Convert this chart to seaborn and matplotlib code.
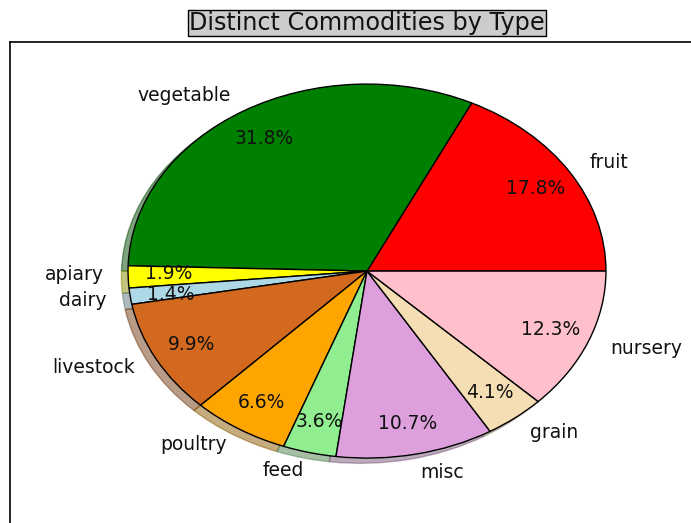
import matplotlib
matplotlib.use("Agg")
import matplotlib.pyplot as plt
import seaborn as sns

categories = ["fruit", "vegetable", "apiary", "dairy", "livestock",
              "poultry", "feed", "misc", "grain", "nursery"]
shares = [17.8, 31.8, 1.9, 1.4, 9.9, 6.6, 3.6, 10.7, 4.1, 12.3]
colors = ["red", "green", "yellow", "lightblue", "chocolate",
          "orange", "lightgreen", "plum", "wheat", "pink"]

sns.set_style("white")
plt.rcParams["font.family"] = ["DejaVu Sans"]

fig = plt.figure(figsize=(6.91, 5.23), dpi=100)
ax = fig.add_axes([10/691, (523-560)/523, 714/691, (560-42)/523])

palette = sns.color_palette(colors)
wedges, texts, autotexts = ax.pie(
    shares, labels=categories, colors=palette, autopct="%1.1f%%",
    startangle=0, shadow=dict(ox=-0.02, oy=-0.02, shade=0.45),
    pctdistance=0.83, labeldistance=1.1,
    wedgeprops=dict(edgecolor="black", linewidth=1),
    textprops=dict(fontsize=13.5, color="#111111"), frame=True,
)
# nudge the tiny-slice labels apart slightly so they do not collide
ix_a, ix_d = categories.index("apiary"), categories.index("dairy")
for group in (texts, autotexts):
    xa, ya = group[ix_a].get_position()
    group[ix_a].set_position((xa, ya + 0.015))
    xd, yd = group[ix_d].get_position()
    group[ix_d].set_position((xd, yd - 0.012))

ax.set_xlim(-1.494, 1.494)
ax.set_ylim(-1.545, 1.225)
ax.set_aspect("auto")
ax.set_xticks([])
ax.set_yticks([])
for s in ax.spines.values():
    s.set_visible(True)
    s.set_color("black")
    s.set_linewidth(1.2)

fig.text(367/691, 1 - 23/523, "Distinct Commodities by Type", ha="center", va="center",
         fontsize=17.2, color="#111111",
         bbox=dict(facecolor="#cccccc", edgecolor="black", boxstyle="square,pad=0.05"))

fig.savefig("out.png", dpi=100)
